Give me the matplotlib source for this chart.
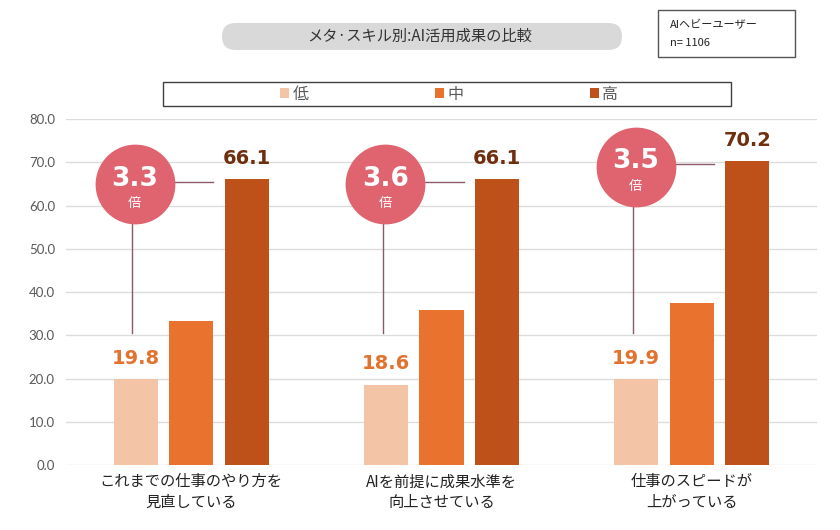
import matplotlib
matplotlib.use("Agg")
import matplotlib.pyplot as plt
from matplotlib.patches import FancyBboxPatch, Rectangle, Patch
import numpy as np

plt.rcParams['font.family'] = ['Noto Sans CJK JP', 'DejaVu Sans']

categories = ["これまでの仕事のやり方を\n見直している",
              "AIを前提に成果水準を\n向上させている",
              "仕事のスピードが\n上がっている"]
series_names = ["低", "中", "高"]
low = [19.8, 18.6, 19.9]
mid = [33.3, 35.8, 37.4]
high = [66.1, 66.1, 70.2]
ratios = ["3.3", "3.6", "3.5"]
yticks = [0, 10, 20, 30, 40, 50, 60, 70, 80]
title = "メタ·スキル別:AI活用成果の比較"
note_lines = ["AIヘビーユーザー", "n= 1106"]

colors = ["#F4C4A6", "#E8722E", "#BE5019"]
low_lbl_color = "#E2732F"
high_lbl_color = "#6E2F0E"
circle_color = "#E0646F"
line_color = "#8C5A66"

fig = plt.figure(figsize=(8.4, 5.3), dpi=100)
ax = fig.add_axes([66/840, 1-465/530, (817-66)/840, (465-119)/530])

x = np.arange(len(categories))
w = 0.176
off = 0.222
ax.bar(x - off, low, w, color=colors[0], zorder=3)
ax.bar(x, mid, w, color=colors[1], zorder=3)
ax.bar(x + off, high, w, color=colors[2], zorder=3)

ax.set_xlim(-0.5, 2.5)
ax.set_ylim(0, 80)
ax.set_yticks(yticks)
ax.set_yticklabels([f"{v:.1f}" for v in yticks], color="#595959", fontsize=9.5,
                   family=['Lato', 'DejaVu Sans'])
ax.set_xticks(x)
ax.set_xticklabels(categories, fontsize=11, color="#222222", linespacing=1.3)
ax.tick_params(axis='both', length=0)
ax.tick_params(axis='y', pad=8)
ax.tick_params(axis='x', pad=6)
for s in ax.spines.values():
    s.set_visible(False)
ax.yaxis.grid(True, color="#dcdcdc", lw=1, zorder=0)
ax.set_axisbelow(True)

for i in range(len(categories)):
    ax.annotate(f"{low[i]:.1f}", (x[i] - off, low[i]), xytext=(0, 8),
                textcoords='offset points', ha='center', va='bottom',
                fontsize=14, fontweight='bold', color=low_lbl_color,
                family=['DejaVu Sans'], zorder=5)
    ax.annotate(f"{high[i]:.1f}", (x[i] + off, high[i]), xytext=(0, 8),
                textcoords='offset points', ha='center', va='bottom',
                fontsize=14, fontweight='bold', color=high_lbl_color,
                family=['DejaVu Sans'], zorder=5)
    cx = x[i] - 0.225
    cy = high[i] - 1.2
    # connector lines
    ax.plot([cx - 0.01, cx - 0.01], [cy, max(low) + 10.6], color=line_color, lw=1, zorder=4)
    ax.plot([cx, x[i] + w / 2], [high[i] - 0.6, high[i] - 0.6], color=line_color, lw=1, zorder=4)
    ax.scatter([cx], [cy], s=3300, color=circle_color, zorder=6, linewidths=0)
    ax.annotate(ratios[i], (cx, cy), xytext=(0, 4), textcoords='offset points',
                ha='center', va='center', fontsize=19, fontweight='bold',
                color='white', family=['DejaVu Sans'], zorder=7)
    ax.annotate("倍", (cx, cy), xytext=(0, -14), textcoords='offset points',
                ha='center', va='center', fontsize=9.5,
                color='white', zorder=7)

# title pill
fig.patches.append(FancyBboxPatch((2.22, 4.80), 4.0, 0.27,
                                  boxstyle="round,pad=0,rounding_size=0.135",
                                  transform=fig.dpi_scale_trans, fc="#D9D9D9",
                                  ec="none", zorder=1))
fig.text(4.20 / 8.4, 1 - 36.5 / 530, title, ha='center', va='center',
         fontsize=11, color="#333333")

# note box
fig.patches.append(Rectangle((6.58, 4.73), 1.37, 0.47, transform=fig.dpi_scale_trans,
                             fc='white', ec="#555555", lw=1))
fig.text(670 / 840, 1 - 25 / 530, note_lines[0], ha='left', va='center', fontsize=8, color="#222222")
fig.text(670 / 840, 1 - 43 / 530, note_lines[1], ha='left', va='center', fontsize=8, color="#222222")

# legend frame + legend
fig.patches.append(Rectangle((1.63, 4.24), 5.68, 0.24, transform=fig.dpi_scale_trans,
                             fc='white', ec="#404040", lw=1))
handles = [Patch(facecolor=c, edgecolor='none') for c in colors]
fig.legend(handles, series_names, loc='center', bbox_to_anchor=(449 / 840, 1 - 94 / 530),
           ncol=3, frameon=False, fontsize=11.5, handlelength=0.6, handleheight=0.6,
           handletextpad=0.2, columnspacing=7.9, labelcolor="#595959")

fig.savefig("out.png", dpi=100)
